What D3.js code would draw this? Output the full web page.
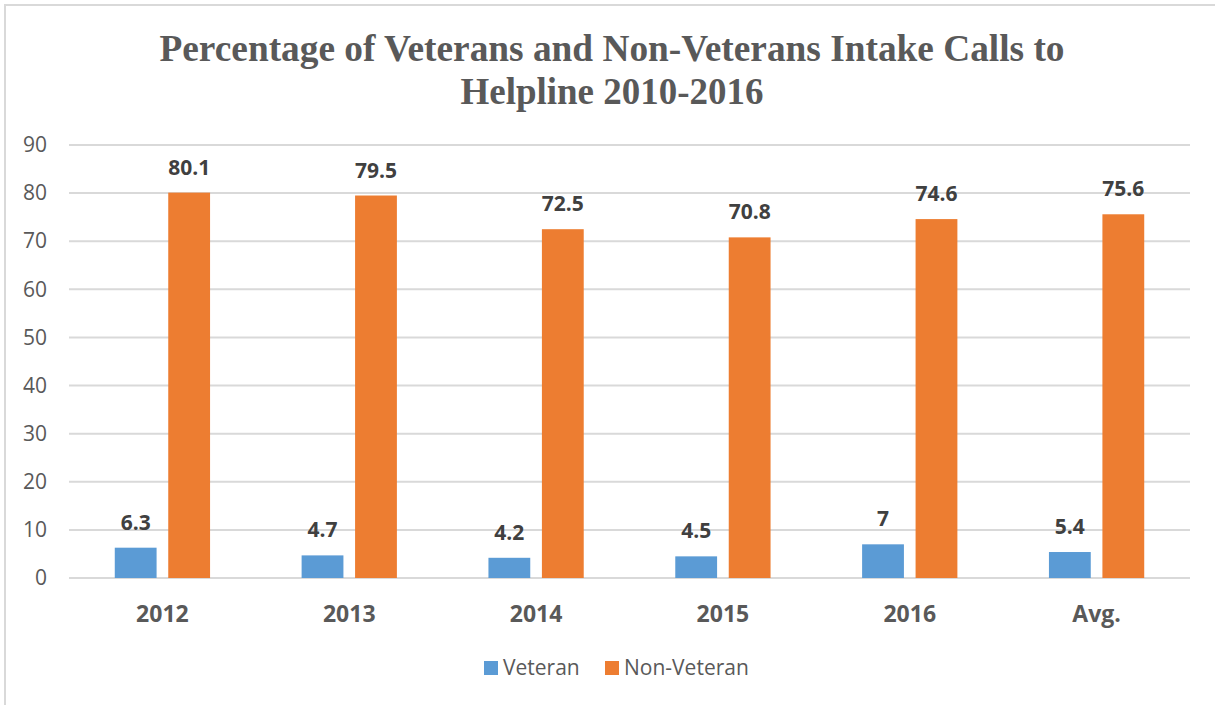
<!DOCTYPE html>
<html><head><meta charset="utf-8">
<script src="https://cdn.jsdelivr.net/npm/d3@7"></script>
<style>html,body{margin:0;padding:0;background:#fff;overflow:hidden;}</style>
</head><body>
<svg id="chart" width="1215" height="705" style="display:block"></svg>
<script>
const titleLines = ["Percentage of Veterans and Non-Veterans Intake Calls to", "Helpline 2010-2016"];
const categories = ["2012", "2013", "2014", "2015", "2016", "Avg."];
const seriesNames = ["Veteran", "Non-Veteran"];
const veteran = [6.3, 4.7, 4.2, 4.5, 7, 5.4];
const nonVeteran = [80.1, 79.5, 72.5, 70.8, 74.6, 75.6];
const yTicks = [0, 10, 20, 30, 40, 50, 60, 70, 80, 90];
const colors = ["#5B9BD5", "#ED7D31"];

const svg = d3.select("#chart");
// chart border
svg.append("rect").attr("x", 5).attr("y", 5).attr("width", 1220).attr("height", 710)
  .attr("fill", "#fff").attr("stroke", "#D9D9D9").attr("stroke-width", 2);

// title
const title = svg.append("text").attr("text-anchor", "middle")
  .attr("font-family", "'Liberation Serif', 'Times New Roman', serif")
  .attr("font-weight", "bold").attr("font-size", 38).attr("fill", "#595959");
title.append("tspan").attr("x", 612).attr("y", 61).text(titleLines[0])
  .attr("textLength", 905).attr("lengthAdjust", "spacingAndGlyphs");
title.append("tspan").attr("x", 612).attr("y", 104).text(titleLines[1])
  .attr("textLength", 303).attr("lengthAdjust", "spacingAndGlyphs");

const plotLeft = 69, plotRight = 1190, plotTop = 145, plotBottom = 578;
const x0 = d3.scaleBand().domain(categories).range([plotLeft, plotRight]).paddingInner(0.49).paddingOuter(0.245);
const x1 = d3.scaleBand().domain(seriesNames).range([0, x0.bandwidth()]).paddingInner(0.218);
const y = d3.scaleLinear().domain([0, 90]).range([plotBottom, plotTop]);

// gridlines
svg.append("g").selectAll("line").data(yTicks).join("line")
  .attr("x1", plotLeft).attr("x2", plotRight)
  .attr("y1", d => y(d)).attr("y2", d => y(d))
  .attr("stroke", "#D9D9D9").attr("stroke-width", 2);

// y axis labels
const yAxis = d3.axisLeft(y).tickValues(yTicks).tickSize(0).tickPadding(0);
const gy = svg.append("g").attr("transform", "translate(47,0)").call(yAxis);
gy.select(".domain").remove();
gy.selectAll("text").attr("font-family", "'Open Sans', sans-serif").attr("font-size", 21)
  .attr("fill", "#595959");

// bars
const data = categories.map((c, i) => ({cat: c, vals: [veteran[i], nonVeteran[i]]}));
const groups = svg.append("g").selectAll("g").data(data).join("g")
  .attr("transform", d => `translate(${x0(d.cat)},0)`);
groups.selectAll("rect").data(d => d.vals.map((v, j) => ({s: seriesNames[j], v, j}))).join("rect")
  .attr("x", d => x1(d.s)).attr("width", x1.bandwidth())
  .attr("y", d => y(d.v)).attr("height", d => y(0) - y(d.v))
  .attr("fill", d => colors[d.j]);
groups.selectAll("text.lbl").data(d => d.vals.map((v, j) => ({s: seriesNames[j], v, j}))).join("text")
  .attr("class", "lbl")
  .attr("x", d => x1(d.s) + x1.bandwidth() / 2).attr("y", d => y(d.v) - 18)
  .attr("text-anchor", "middle")
  .attr("font-family", "'Open Sans', sans-serif").attr("font-weight", "bold").attr("font-size", 21)
  .attr("fill", "#404040").text(d => d.v);

// x axis labels
const xAxis = d3.axisBottom(x0).tickSize(0).tickPadding(0);
const gx = svg.append("g").attr("transform", `translate(0,${plotBottom + 44})`).call(xAxis);
gx.select(".domain").remove();
gx.selectAll("text").attr("dy", 0).attr("font-family", "'Open Sans', sans-serif")
  .attr("font-weight", "bold").attr("font-size", 23).attr("fill", "#595959");

// legend
const legendItems = [{name: seriesNames[0], x: 484, tx: 503}, {name: seriesNames[1], x: 605, tx: 624}];
const lg = svg.append("g");
legendItems.forEach((it, i) => {
  lg.append("rect").attr("x", it.x).attr("y", 661).attr("width", 14).attr("height", 14).attr("fill", colors[i]);
  lg.append("text").attr("x", it.tx).attr("y", 675).attr("font-family", "'Open Sans', sans-serif")
    .attr("font-size", 21).attr("fill", "#595959").text(it.name);
});
</script>
</body></html>
